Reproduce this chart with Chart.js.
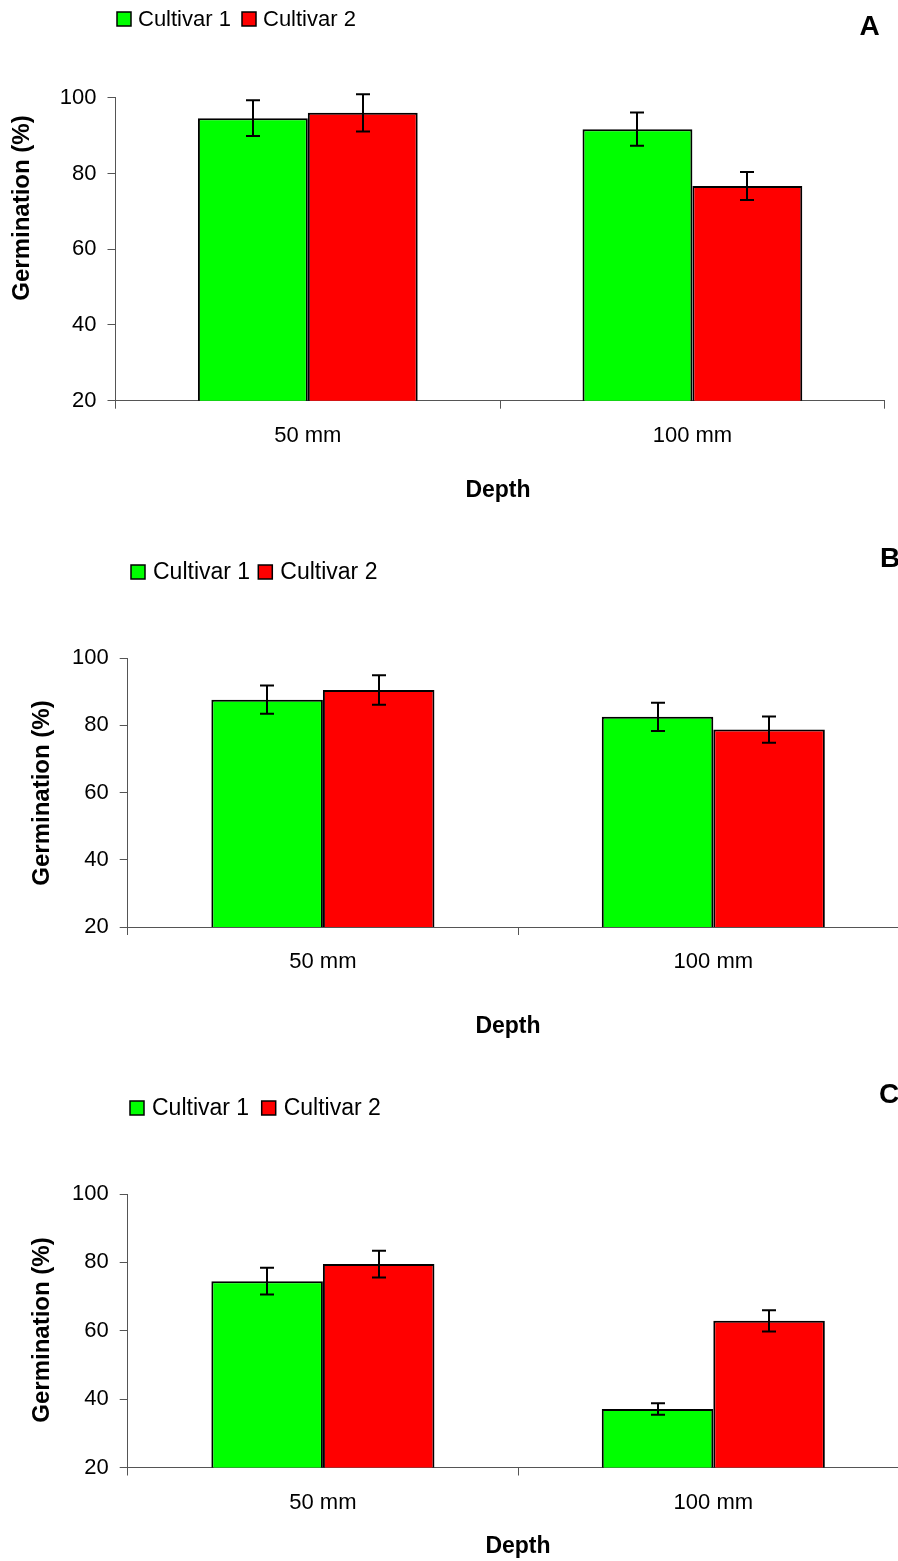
<!DOCTYPE html>
<html>
<head>
<meta charset="utf-8">
<script src="https://cdn.jsdelivr.net/npm/chart.js@4.4.1/dist/chart.umd.min.js"></script>
<style>
  html, body { margin: 0; padding: 0; background: #fff; overflow: hidden; width: 898px; height: 1561px; }
  .panel { position: absolute; left: 0; }
  canvas { display: block; }
</style>
</head>
<body>
<div class="panel" style="top:0"><canvas id="chartA" width="898" height="520"></canvas></div>
<div class="panel" style="top:520px"><canvas id="chartB" width="912" height="540"></canvas></div>
<div class="panel" style="top:1060px"><canvas id="chartC" width="912" height="501"></canvas></div>
<script>
// Categories, series names and axis ticks
const depths = ['50 mm', '100 mm'];
const seriesNames = ['Cultivar 1', 'Cultivar 2'];
const yTicks = [20, 40, 60, 80, 100];

// Panel A: germination (%) and error half-widths
const cultivar1A = [94.6, 91.7];
const cultivar1ErrA = [4.7, 4.4];
const cultivar2A = [96.0, 76.7];
const cultivar2ErrA = [4.9, 3.7];

// Panel B
const cultivar1B = [87.6, 82.5];
const cultivar1ErrB = [4.2, 4.2];
const cultivar2B = [90.5, 78.7];
const cultivar2ErrB = [4.4, 3.9];

// Panel C
const cultivar1C = [74.5, 37.1];
const cultivar1ErrC = [3.9, 1.7];
const cultivar2C = [79.5, 62.9];
const cultivar2ErrC = [3.9, 3.1];

const FONT = "'Liberation Sans', Arial, Helvetica, sans-serif";
const AXIS = '#555555';
const GREEN = '#00ff00';
const RED = '#ff0000';

// Vertical error bars with caps, centred on each bar
const errorBars = {
  id: 'errorBars',
  afterDatasetsDraw(chart) {
    const { ctx } = chart;
    const y = chart.scales.y;
    ctx.save();
    ctx.strokeStyle = '#000';
    ctx.lineWidth = 2;
    chart.data.datasets.forEach((ds, i) => {
      const meta = chart.getDatasetMeta(i);
      meta.data.forEach((bar, j) => {
        const v = ds.data[j], e = ds.errors[j];
        const yt = y.getPixelForValue(v + e);
        const yb = y.getPixelForValue(v - e);
        const x = Math.round(bar.x);
        ctx.beginPath();
        ctx.moveTo(x, yt); ctx.lineTo(x, yb);
        ctx.moveTo(x - 7, yt); ctx.lineTo(x + 7, yt);
        ctx.moveTo(x - 7, yb); ctx.lineTo(x + 7, yb);
        ctx.stroke();
      });
    });
    ctx.restore();
  }
};

// Legend row, panel letter and axis titles
const panelDecor = {
  id: 'panelDecor',
  afterDraw(chart, args, o) {
    const { ctx } = chart;
    ctx.save();
    // legend
    const lg = o.legend;
    ctx.font = `${lg.size}px ${FONT}`;
    ctx.textAlign = 'left';
    ctx.textBaseline = 'alphabetic';
    chart.data.datasets.forEach((ds, i) => {
      const bx = lg.x[i];
      ctx.fillStyle = ds.backgroundColor;
      ctx.fillRect(bx, lg.baseline - lg.box, lg.box, lg.box);
      ctx.strokeStyle = '#000';
      ctx.lineWidth = 1.5;
      ctx.strokeRect(bx, lg.baseline - lg.box, lg.box, lg.box);
      ctx.fillStyle = '#000';
      ctx.fillText(ds.label, bx + lg.box + lg.gap, lg.baseline);
    });
    // panel letter
    ctx.font = `bold ${o.letter.size}px ${FONT}`;
    ctx.textAlign = 'center';
    ctx.fillText(o.letter.text, o.letter.x, o.letter.baseline);
    // x axis title
    ctx.font = `bold ${o.xTitle.size}px ${FONT}`;
    ctx.fillText(o.xTitle.text, o.xTitle.x, o.xTitle.baseline);
    // y axis title
    ctx.font = `bold ${o.yTitle.size}px ${FONT}`;
    ctx.textBaseline = 'middle';
    ctx.translate(o.yTitle.x, o.yTitle.y);
    ctx.rotate(-Math.PI / 2);
    ctx.fillText(o.yTitle.text, 0, 0);
    ctx.restore();
  }
};

function makePanel(id, c1, e1, c2, e2, layout, decor) {
  const tickFont = { family: FONT, size: 22, lineHeight: 1 };
  return new Chart(document.getElementById(id), {
    type: 'bar',
    data: {
      labels: depths,
      datasets: [
        { label: seriesNames[0], data: c1, errors: e1, backgroundColor: GREEN, borderColor: '#000', borderWidth: 2, borderSkipped: false },
        { label: seriesNames[1], data: c2, errors: e2, backgroundColor: RED, borderColor: '#000', borderWidth: 2, borderSkipped: false }
      ]
    },
    options: {
      responsive: false,
      animation: false,
      devicePixelRatio: 1,
      datasets: { bar: { barPercentage: 1, categoryPercentage: 2 / 3.5 } },
      layout: { padding: { top: layout.top, right: layout.right, left: 0, bottom: 0 } },
      plugins: {
        legend: { display: false },
        tooltip: { enabled: false },
        panelDecor: decor
      },
      scales: {
        x: {
          grid: { display: true, drawOnChartArea: false, drawTicks: true, tickLength: 8, color: AXIS, offset: true },
          border: { display: true, color: AXIS, width: 1 },
          ticks: { font: tickFont, color: '#000', padding: 16, maxRotation: 0 },
          afterFit(s) { s.height = layout.xHeight; }
        },
        y: {
          min: 20, max: 100,
          afterBuildTicks(s) { s.ticks = yTicks.map(v => ({ value: v })); },
          grid: { drawOnChartArea: false, drawTicks: true, tickLength: 8, color: AXIS },
          border: { display: true, color: AXIS, width: 1 },
          ticks: { font: tickFont, color: '#000', padding: 11 },
          afterFit(s) { s.width = layout.yWidth; }
        }
      }
    },
    plugins: [errorBars, panelDecor]
  });
}

makePanel('chartA', cultivar1A, cultivar1ErrA, cultivar2A, cultivar2ErrA,
  { top: 97.7, right: 13.3, xHeight: 119.3, yWidth: 115.5 },
  {
    legend: { x: [117, 242], baseline: 26, box: 14, gap: 7, size: 22 },
    letter: { text: 'A', x: 869.5, baseline: 35, size: 28 },
    xTitle: { text: 'Depth', x: 498, baseline: 497, size: 23 },
    yTitle: { text: 'Germination (%)', x: 22.5, y: 208, size: 24 }
  });

makePanel('chartB', cultivar1B, cultivar1ErrB, cultivar2B, cultivar2ErrB,
  { top: 138, right: 3.5, xHeight: 133, yWidth: 127.7 },
  {
    legend: { x: [131, 258.3], baseline: 59, box: 14, gap: 8, size: 23 },
    letter: { text: 'B', x: 890, baseline: 46.7, size: 28 },
    xTitle: { text: 'Depth', x: 508, baseline: 513, size: 23 },
    yTitle: { text: 'Germination (%)', x: 42.5, y: 273, size: 24 }
  });

makePanel('chartC', cultivar1C, cultivar1ErrC, cultivar2C, cultivar2ErrC,
  { top: 134, right: 3.5, xHeight: 93.5, yWidth: 127.7 },
  {
    legend: { x: [130, 261.7], baseline: 55, box: 14, gap: 8, size: 23 },
    letter: { text: 'C', x: 889, baseline: 43, size: 28 },
    xTitle: { text: 'Depth', x: 518, baseline: 493, size: 23 },
    yTitle: { text: 'Germination (%)', x: 42, y: 270, size: 24 }
  });
</script>
</body>
</html>
